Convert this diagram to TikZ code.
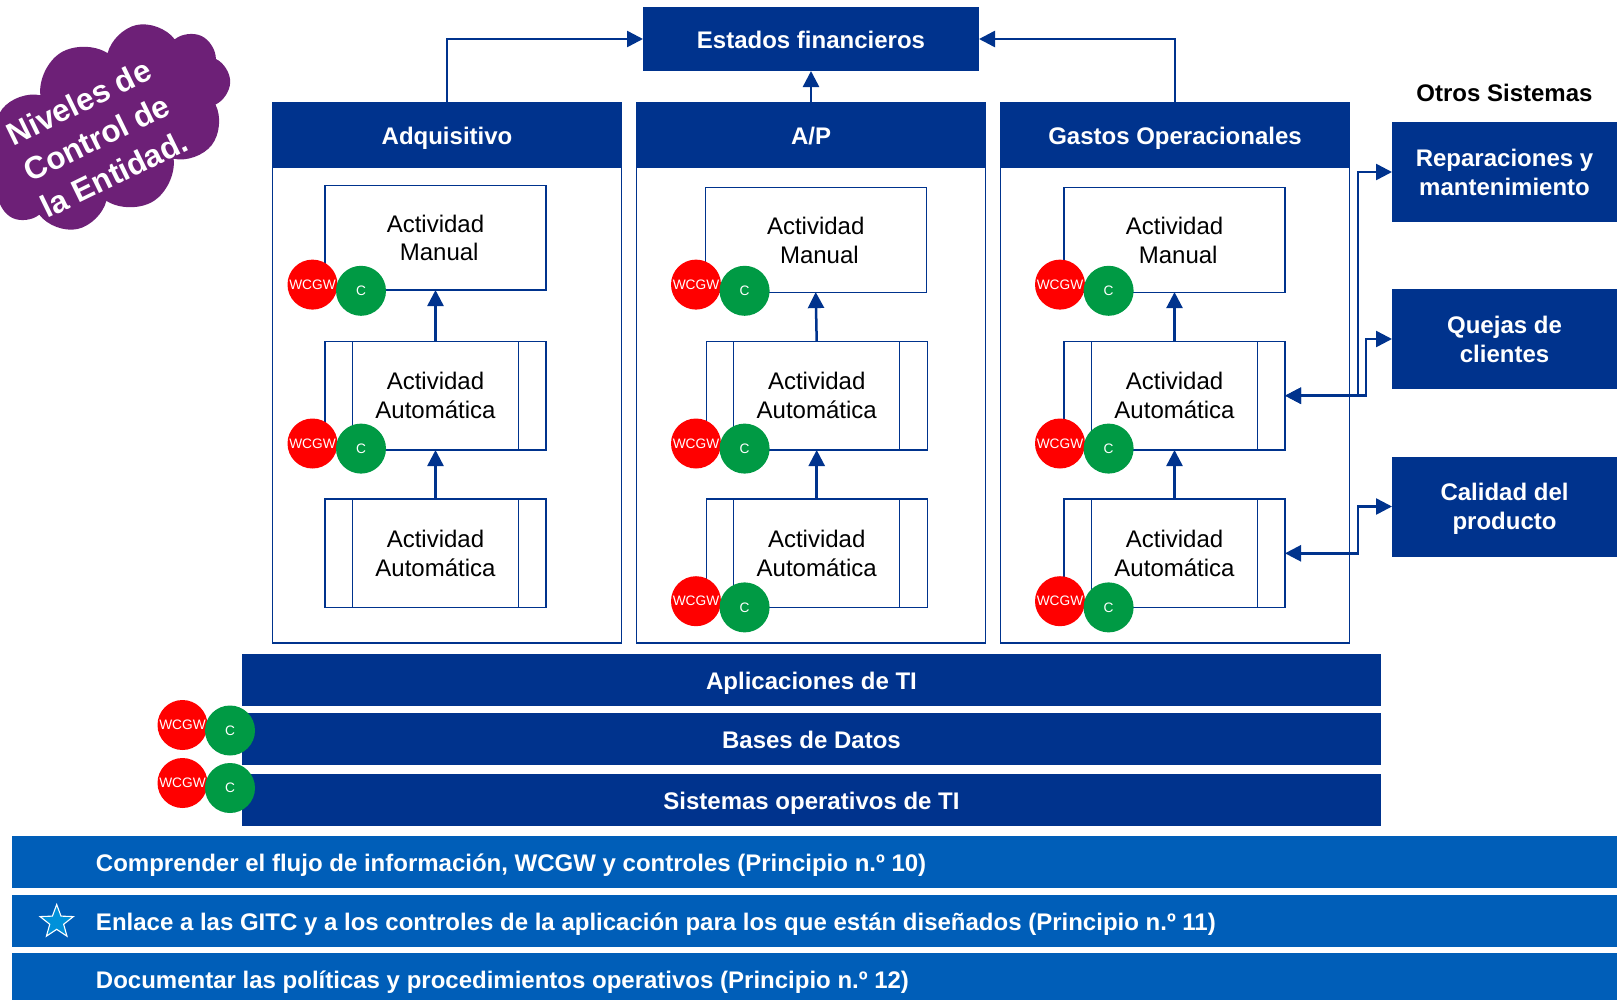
\documentclass[tikz,border=0pt]{standalone}
\usepackage{fontspec}
\setmainfont{Liberation Sans}
\usetikzlibrary{arrows.meta,positioning,shapes.geometric,shapes.symbols}
\definecolor{navycolor}{RGB}{0,51,141}
\definecolor{barcolor}{RGB}{0,94,184}
\definecolor{cloudcolor}{RGB}{109,32,119}
\definecolor{ctrlcolor}{RGB}{0,154,68}
\definecolor{starcolor}{RGB}{0,145,218}
\newcommand{\nodestrut}{\rule[-6.5pt]{0pt}{32pt}}
\newcommand{\lastlinestrut}{\rule[-6.5pt]{0pt}{30pt}}

\begin{document}
\begin{tikzpicture}[%
    x=1pt, y=-1pt,
    >={Triangle[length=16pt,width=16pt]},
    ]
\tikzset{
  base/.style={inner sep=0pt, outer sep=0pt, align=center},
  strutted/.style={execute at begin node=\nodestrut, execute at end node=\lastlinestrut},
  twoline/.style={execute at begin node=, execute at end node=, text depth=-1.5pt},
  head/.style={base, strutted, fill=navycolor, text=white, font=\fontsize{24}{28.9}\selectfont\bfseries},
  colhead/.style={head, minimum width=349.5pt, minimum height=65pt},
  colbody/.style={base, draw=navycolor, line width=1.1pt, minimum width=348.5pt, minimum height=476pt},
  sysbox/.style={head, twoline, minimum width=225pt, minimum height=100pt},
  layer/.style={head, minimum width=1139pt, minimum height=52pt},
  manual/.style={base, twoline, draw=navycolor, line width=1.1pt, fill=white, minimum width=221pt, minimum height=104.4pt,
    font=\fontsize{24}{28.9}\selectfont},
  auto/.style={manual, minimum height=108.6pt, path picture={
    \draw [navycolor, line width=1.1pt]
      ([xshift=27.5pt]path picture bounding box.north west) -- ([xshift=27.5pt]path picture bounding box.south west)
      ([xshift=-27.5pt]path picture bounding box.north east) -- ([xshift=-27.5pt]path picture bounding box.south east);}},
  wcgw/.style={base, circle, fill=red, text=white, minimum size=50pt, font=\fontsize{13.7}{15}\selectfont},
  ctrl/.style={base, circle, fill=ctrlcolor, text=white, minimum size=50pt, font=\fontsize{13.7}{15}\selectfont},
  flow/.style={navycolor, line width=2.5pt},
  bar/.style={inner sep=0pt, outer sep=0pt, anchor=west, fill=barcolor, text=white, minimum height=52pt, text width=1605pt, align=flush left,
    font=\fontsize{24}{28.9}\selectfont\bfseries, execute at begin node=\hspace*{84pt}\nodestrut},
}
\useasboundingbox (0,0) rectangle (1617,999);

\node [base, shape=cloud, cloud puffs=10, cloud puff arc=130, aspect=1.5, minimum width=270pt, minimum height=175pt,
  fill=cloudcolor, rotate=32] (nivel) at (107,127) {};
\node [base, text=white, rotate=26, font=\fontsize{31.5}{40}\selectfont\bfseries] (niveltxt) at (96.5,138) {Niveles de\\Control de\\la Entidad.};

\node [head, minimum width=336pt, minimum height=64pt] (est) at (811,39) {Estados financieros};

\node [colhead] (adq) at (447,134.5) {Adquisitivo};
\node [colhead, right=14.5pt of adq] (ap) {A/P};
\node [colhead, right=14.5pt of ap] (gas) {Gastos Operacionales};
\node [colbody, below=0pt of adq] (adqbody) {};
\node [colbody, below=0pt of ap] (apbody) {};
\node [colbody, below=0pt of gas] (gasbody) {};

\node [manual] (m1) at (435.5,237.8) {Actividad\\\hspace*{7.4pt}Manual};
\node [auto, below=51.4pt of m1] (a1) {Actividad\\Automática};
\node [auto, below=49pt of a1] (b1) {Actividad\\Automática};

\node [manual] (m2) at (815.7,239.9) {Actividad\\\hspace*{7.4pt}Manual};
\node [auto] (a2) at (816.7,395.7) {Actividad\\Automática};
\node [auto, below=49pt of a2] (b2) {Actividad\\Automática};

\node [manual] (m3) at (1174.5,239.9) {Actividad\\\hspace*{7.4pt}Manual};
\node [auto] (a3) at (1174.5,395.7) {Actividad\\Automática};
\node [auto, below=49pt of a3] (b3) {Actividad\\Automática};

\node [wcgw] (wm1) at (312.5,284.6) {WCGW};
\node [ctrl] (cm1) at (361,290.8) {C};
\node [wcgw] (wa1) at (312.5,443.5) {WCGW};
\node [ctrl] (ca1) at (361,448.6) {C};

\node [wcgw] (wm2) at (696,284.6) {WCGW};
\node [ctrl] (cm2) at (744.6,290.8) {C};
\node [wcgw] (wa2) at (696,443.5) {WCGW};
\node [ctrl] (ca2) at (744.6,448.6) {C};
\node [wcgw] (wb2) at (696,601.2) {WCGW};
\node [ctrl] (cb2) at (744.6,607.4) {C};

\node [wcgw] (wm3) at (1060,284.6) {WCGW};
\node [ctrl] (cm3) at (1108.6,290.8) {C};
\node [wcgw] (wa3) at (1060,443.5) {WCGW};
\node [ctrl] (ca3) at (1108.6,448.6) {C};
\node [wcgw] (wb3) at (1060,601.2) {WCGW};
\node [ctrl] (cb3) at (1108.6,607.4) {C};

\node [base, font=\fontsize{24}{28.9}\selectfont\bfseries] (otros) at (1504.5,93) {Otros Sistemas};
\node [sysbox] (rep) at (1504.5,172) {Reparaciones y\\mantenimiento};
\node [sysbox] (que) at (1504.5,339) {Quejas de\\clientes};
\node [sysbox] (cal) at (1504.5,506.5) {Calidad del\\producto};

\node [layer] (app) at (811.5,679.7) {Aplicaciones de TI};
\node [layer] (bd) at (811.5,739.1) {Bases de Datos};
\node [layer] (so) at (811.5,800) {Sistemas operativos de TI};

\node [wcgw] (wbd) at (182.5,725) {WCGW};
\node [ctrl] (cbd) at (230,730.5) {C};
\node [wcgw] (wso) at (182.5,783) {WCGW};
\node [ctrl] (cso) at (230,788) {C};

\node [bar] (pr10) at (12,862) {Comprender el flujo de información, WCGW y controles (Principio n.º 10)};
\node [bar] (pr11) at (12,921) {Enlace a las GITC y a los controles de la aplicación para los que están diseñados (Principio n.º 11)};
\node [bar] (pr12) at (12,979) {Documentar las políticas y procedimientos operativos (Principio n.º 12)};
\node [base, star, star points=5, star point ratio=2.4, minimum size=35pt, fill=starcolor, draw=white, line width=1.1pt] (estrella) at (56.7,922) {};

\coordinate (busr) at (1358,395);
\coordinate (busq) at (1366,395);
\coordinate (busc) at (1358,553);

%connect
\draw [->, flow] (adq.north) |- (est.west);
\draw [->, flow] (gas.north) |- (est.east);
\draw [->, flow] (ap.north) -- (est.south);

\draw [->, flow] (a1.north) -- (a1.north |- m1.south);
\draw [->, flow] (b1.north) -- (a1.south);
\draw [->, flow] (a2.north) -- (m2.south);
\draw [->, flow] (b2.north) -- (a2.south);
\draw [->, flow] (a3.north) -- (m3.south);
\draw [->, flow] (b3.north) -- (a3.south);

\draw [<->, flow] (a3.east) -- (a3.east -| busr) |- (rep.west);
\draw [<->, flow] (a3.east) -- (a3.east -| busq) |- (que.west);
\draw [<->, flow] (b3.east) -- (b3.east -| busc) |- (cal.west);

\end{tikzpicture}
\end{document}
